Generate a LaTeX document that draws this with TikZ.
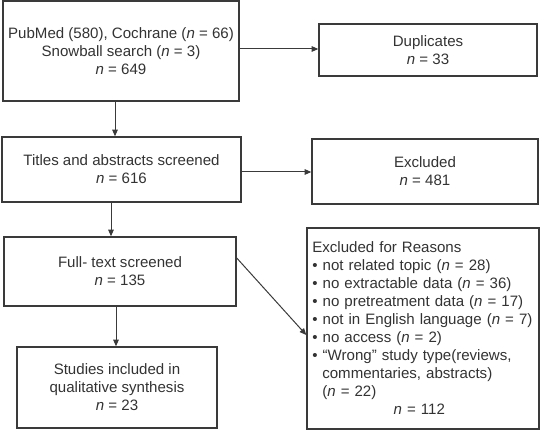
\documentclass[tikz,border=0pt]{standalone}
\usepackage{fontspec}
\setmainfont{Liberation Sans}
\usetikzlibrary{arrows.meta}
\definecolor{ink}{HTML}{333333}
\definecolor{edge}{HTML}{3A3A3A}
\tikzset{
  box/.style={draw=edge, line width=1.1pt, fill=white, align=center, text=ink,
    font=\fontsize{11.3}{13.5}\selectfont, inner sep=0pt},
  arr/.style={draw=edge, line width=0.75pt, -{Triangle[length=5pt,width=4.2pt]}},
}
\begin{document}
\begin{tikzpicture}[x=0.75pt,y=-0.75pt]
\useasboundingbox (0,0) rectangle (540,431);
\node[box, minimum width=177pt, minimum height=75pt] (src) at (121,51)
  {PubMed (580), Cochrane (\textit{n} = 66)\\Snowball search (\textit{n} = 3)\\\textit{n} = 649};
\node[box, minimum width=163.5pt, minimum height=39pt] (dup) at (428,50)
  {Duplicates\\\textit{n} = 33};
\node[box, minimum width=179.25pt, minimum height=48.75pt] (titles) at (121.5,169.5)
  {Titles and abstracts screened\\\textit{n} = 616};
\node[box, minimum width=169.5pt, minimum height=48.75pt] (excl) at (425,171.5)
  {Excluded\\\textit{n} = 481};
\node[box, minimum width=174pt, minimum height=51.75pt] (full) at (120,271.5)
  {Full- text screened\\\textit{n} = 135};
\node[box, minimum width=150pt, minimum height=60.75pt] (studies) at (117,387.5)
  {Studies included in\\qualitative synthesis\\\textit{n} = 23};
\node[box, minimum width=174pt, minimum height=150.75pt, text width=166pt, align=left] (reasons) at (423,328.5)
  {Excluded for Reasons\\
   • not related topic (\textit{n} = 28)\\
   • no extractable data (\textit{n} = 36)\\
   • no pretreatment data (\textit{n} = 17)\\
   • not in English language (\textit{n} = 7)\\
   • no access (\textit{n} = 2)\\
   • “Wrong” study type(reviews,\\
   \hspace*{7.5pt}commentaries, abstracts)\\
   \hspace*{7.5pt}(\textit{n} = 22)\\
   \hspace*{61pt}\textit{n} = 112};
\draw[arr] (src.east |- 0,49) -- (dup.west |- 0,49);
\draw[arr] (src.south -| 115,0) -- (titles.north -| 115,0);
\draw[arr] (titles.east |- 0,172) -- (excl.west |- 0,172);
\draw[arr] (titles.south -| 111,0) -- (full.north -| 111,0);
\draw[arr] (full.south -| 116,0) -- (studies.north -| 116,0);
\draw[arr] (full.east |- 0,258) -- (reasons.west |- 0,335);
\end{tikzpicture}
\end{document}
